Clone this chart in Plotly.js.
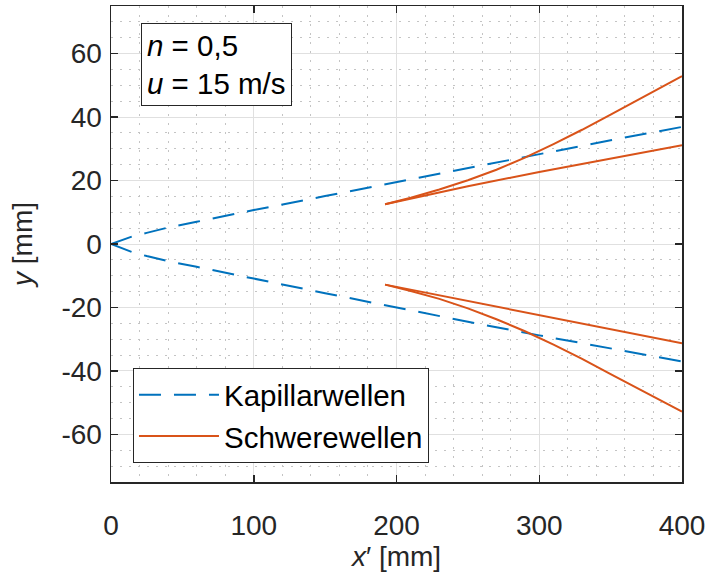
<!DOCTYPE html>
<html>
<head>
<meta charset="utf-8">
<script src="https://cdn.plot.ly/plotly-3.0.1.min.js"></script>
<style>html,body{margin:0;padding:0;background:#fff;}#plot{width:705px;height:579px;}</style>
</head>
<body>
<div id="plot"></div>
<script>
// Kapillarwellen (dashed, blue)
const kapUpperX = [0, 8, 15, 25, 40, 60, 80, 100, 150, 200, 250, 300, 350, 400];
const kapUpperY = [0, 1.4, 2.4, 3.5, 5.2, 7.0, 8.9, 10.7, 15.1, 19.5, 24.0, 28.5, 32.7, 36.9];
const kapLowerX = [0, 8, 15, 25, 40, 60, 80, 100, 150, 200, 250, 300, 350, 400];
const kapLowerY = [0, -1.4, -2.6, -3.8, -5.4, -7.2, -9.1, -10.9, -15.5, -20.1, -24.5, -28.8, -32.8, -37.0];

// Schwerewellen (solid, orange)
const schUpperCurveX = [192, 210, 230, 250, 270, 290, 310, 330, 350, 370, 385, 400];
const schUpperCurveY = [12.5, 14.6, 17.2, 20.1, 23.4, 27.2, 31.5, 36.0, 40.8, 45.7, 49.4, 52.9];
const schUpperLineX = [192, 250, 300, 350, 400];
const schUpperLineY = [12.5, 18.2, 22.7, 27.0, 31.1];
const schLowerCurveX = [192, 210, 230, 250, 270, 290, 310, 330, 350, 370, 385, 400];
const schLowerCurveY = [-12.8, -14.8, -17.3, -20.3, -23.7, -27.5, -31.7, -36.2, -41.0, -45.8, -49.4, -52.8];
const schLowerLineX = [192, 250, 300, 350, 400];
const schLowerLineY = [-12.8, -18.0, -22.5, -27.0, -31.3];

const xTicks = [0, 100, 200, 300, 400];
const yTicks = [-60, -40, -20, 0, 20, 40, 60];

const blue = '#0072BD';
const orange = '#D95319';
const FONT = 'Liberation Sans, Arial, Helvetica, sans-serif';

const kapLine = {color: blue, width: 2, dash: '22px,13px'};
const schLine = {color: orange, width: 2};

const traces = [
  {x: kapUpperX, y: kapUpperY, mode: 'lines', name: 'Kapillarwellen', legendgroup: 'k', line: kapLine},
  {x: kapLowerX, y: kapLowerY, mode: 'lines', name: 'Kapillarwellen', legendgroup: 'k', showlegend: false, line: kapLine},
  {x: schUpperCurveX, y: schUpperCurveY, mode: 'lines', name: 'Schwerewellen', legendgroup: 's', line: schLine},
  {x: schUpperLineX, y: schUpperLineY, mode: 'lines', name: 'Schwerewellen', legendgroup: 's', showlegend: false, line: schLine},
  {x: schLowerCurveX, y: schLowerCurveY, mode: 'lines', name: 'Schwerewellen', legendgroup: 's', showlegend: false, line: schLine},
  {x: schLowerLineX, y: schLowerLineY, mode: 'lines', name: 'Schwerewellen', legendgroup: 's', showlegend: false, line: schLine}
];

const axisCommon = {
  showline: true, linecolor: '#262626', linewidth: 1.5, mirror: 'ticks',
  ticks: 'inside', ticklen: 7, tickwidth: 1.5, tickcolor: '#262626',
  showgrid: true, gridcolor: '#e0e0e0', gridwidth: 1,
  zeroline: false, ticklabeloverflow: 'allow',
  tickfont: {family: FONT, size: 28, color: '#262626'}
};

const minorGrid = {showgrid: true, gridcolor: '#c4c4c4', griddash: '2px,7px', gridwidth: 1, ticks: ''};

const layout = {
  width: 705, height: 579,
  margin: {l: 111, r: 23, t: 6, b: 97},
  paper_bgcolor: '#fff', plot_bgcolor: '#fff',
  font: {family: FONT, size: 28, color: '#262626'},
  xaxis: Object.assign({}, axisCommon, {
    range: [0, 400], tickvals: xTicks, ticktext: xTicks.map(String),
    ticklabelstandoff: 18,
    minor: Object.assign({dtick: 20, tick0: 0}, minorGrid),
    title: {text: '<i>x</i>′ [mm]', font: {family: FONT, size: 28, color: '#262626'}, standoff: 4}
  }),
  yaxis: Object.assign({}, axisCommon, {
    range: [-75, 75], tickvals: yTicks, ticktext: yTicks.map(String),
    ticklabelstandoff: 2,
    minor: Object.assign({dtick: 5, tick0: 0}, minorGrid),
    title: {text: '<i>y</i> [mm]', font: {family: FONT, size: 28, color: '#262626'}, standoff: 20}
  }),
  showlegend: true,
  legend: {
    x: 0.0385, y: 0.2395, xanchor: 'left', yanchor: 'top',
    bgcolor: '#fff', bordercolor: '#262626', borderwidth: 1,
    font: {family: FONT, size: 29.5, color: '#000'},
    itemwidth: 80, tracegroupgap: 0
  },
  annotations: [{
    xref: 'paper', yref: 'paper', x: 0.052, y: 0.9637, xanchor: 'left', yanchor: 'top',
    text: '<i>n</i> = 0,5<br><i>u</i> = 15 m/s', align: 'left', showarrow: false,
    font: {family: FONT, size: 29.5, color: '#000'},
    bgcolor: '#fff', bordercolor: '#262626', borderwidth: 1, borderpad: 5
  }]
};

Plotly.newPlot('plot', traces, layout, {displayModeBar: false, staticPlot: true});
</script>
</body>
</html>
